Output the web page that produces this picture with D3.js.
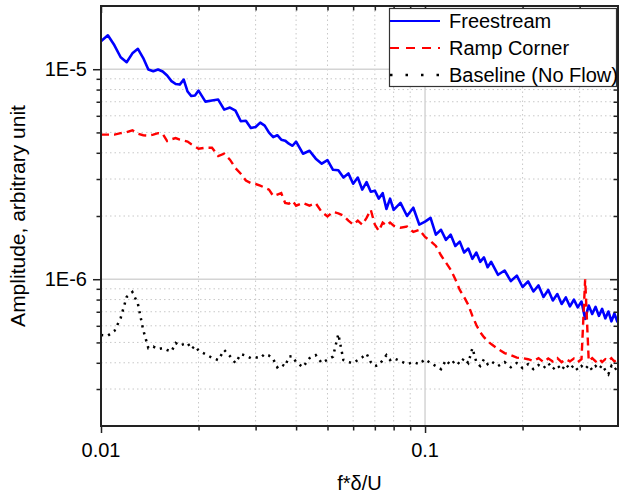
<!DOCTYPE html>
<html><head><meta charset="utf-8">
<script src="https://cdn.jsdelivr.net/npm/d3@7"></script>
<style>
body{margin:0;background:#fff;}
text{font-family:"Liberation Sans",Arial,sans-serif;fill:#000;}
</style></head>
<body>
<svg id="chart" width="619" height="496"></svg>
<script>
// ---- data (amplitudes in units of 1e-7) ----
const UNIT = 1e-7;
const freq = [
 0.0100,0.0105,0.0110,0.0115,0.0120,0.0125,0.0130,0.0135,0.0140,0.0145,
 0.0150,0.0155,0.0160,0.0165,0.0170,0.0175,0.0180,0.0185,0.0190,0.0195,
 0.020,0.021,0.022,0.023,0.024,0.025,0.026,0.027,0.028,0.029,
 0.030,0.031,0.032,0.033,0.034,0.035,0.036,0.037,0.038,0.039,
 0.040,0.042,0.044,0.046,0.048,0.050,0.052,0.054,0.056,0.058,
 0.060,0.062,0.064,0.066,0.068,0.070,0.072,0.074,0.076,0.078,
 0.080,0.084,0.088,0.092,0.096,0.100,0.104,0.108,0.112,0.116,
 0.120,0.124,0.128,0.132,0.136,0.140,0.144,0.148,0.152,0.156,
 0.160,0.168,0.176,0.184,0.192,0.200,0.208,0.216,0.224,0.232,
 0.240,0.248,0.256,0.264,0.272,0.280,0.288,0.296,0.304,0.312,
 0.320,0.328,0.336,0.344,0.352,0.360,0.368,0.376,0.384,0.392,0.400
];
const ampFree = [
 136,145,130,114,108,119,125,113,99.7,97.8,
 99.7,97.5,93.3,87.8,85.0,84.5,89.3,78.3,74.5,74.9,
 79.1,70.1,70.9,71.7,64.2,65.7,63.5,56.5,56.8,52.5,
 53.1,55.7,53.9,49.9,47.5,48.5,46.2,45.7,44.2,43.2,
 45.2,39.6,40.9,37.5,35.5,36.9,33.2,33.0,30.5,31.9,
 28.5,30.5,26.7,29.0,26.1,26.4,24.2,25.7,21.6,24.2,
 21.4,23.1,20.0,21.9,18.2,18.8,19.6,16.3,17.2,15.4,
 16.3,14.4,15.1,13.4,14.0,12.5,13.4,12.1,12.7,11.4,
 12.1,10.5,11.0,9.8,10.4,9.18,9.76,8.74,9.34,8.23,
 8.89,7.92,8.50,7.62,8.19,7.42,8.00,7.34,7.83,6.47,
 7.50,6.83,7.38,6.69,7.22,6.51,7.02,6.30,6.87,6.29,6.69
];
const ampRamp = [
 48.8,48.8,48.8,49.6,50.2,51.2,49.3,48.5,48.3,48.8,
 49.6,49.3,45.5,46.4,47.0,46.2,45.7,45.2,43.9,42.9,
 41.8,42.3,42.3,38.6,39.6,37.1,33.8,31.8,29.5,28.7,
 28.4,27.9,27.3,26.7,24.9,25.3,25.7,23.1,22.9,23.6,
 22.4,23.1,22.4,23.0,20.9,19.9,20.9,20.6,20.1,19.0,
 18.2,19.0,18.2,19.6,21.4,18.2,17.0,18.6,18.0,18.6,
 18.0,17.6,17.8,16.8,17.2,15.9,15.2,14.4,13.0,12.0,
 11.1,10.0,8.89,8.23,7.54,6.69,6.05,5.60,5.30,5.07,
 4.91,4.65,4.45,4.35,4.23,4.21,4.16,4.08,4.21,4.03,
 4.19,4.06,4.21,4.03,4.16,4.06,4.19,4.03,4.16,10.0,
 4.08,4.21,4.06,4.19,4.03,4.16,4.08,4.21,4.06,4.16,4.08
];
const ampBase = [
 5.42,5.39,5.67,6.54,8.23,8.69,7.62,5.73,4.70,4.78,
 4.65,4.70,4.60,4.53,4.97,4.83,4.91,4.97,4.65,4.81,
 4.57,4.40,4.23,4.12,4.60,4.30,3.99,4.40,4.33,4.21,
 4.25,4.21,4.40,4.33,4.16,3.81,3.94,3.84,4.28,4.30,
 4.03,3.81,4.21,4.35,3.99,4.14,4.28,5.48,4.12,4.03,
 3.99,4.12,4.25,4.42,4.03,3.86,3.90,4.12,4.35,4.12,
 4.21,4.07,3.94,4.03,3.94,4.16,3.99,3.86,3.73,4.12,
 3.90,4.12,3.94,4.21,3.99,4.70,4.03,3.86,4.16,3.94,
 4.07,3.86,4.03,3.81,3.99,3.77,3.94,3.73,3.90,3.77,
 3.99,3.73,3.90,3.69,3.94,3.73,3.90,3.69,3.86,3.73,
 3.90,3.69,3.86,3.73,3.90,3.69,3.53,3.86,3.69,3.81,3.73
];
const seriesNames = ["Freestream","Ramp Corner","Baseline (No Flow)"];
const xMajor = [0.01, 0.1];
const xMajorLabels = ["0.01","0.1"];
const xMinor = [0.02,0.03,0.04,0.05,0.06,0.07,0.08,0.09,0.2,0.3];
const yMajor = [1e-6, 1e-5];
const yMajorLabels = ["1E-6","1E-5"];
const yMinor = [3e-7,4e-7,5e-7,6e-7,7e-7,8e-7,9e-7,2e-6,3e-6,4e-6,5e-6,6e-6,7e-6,8e-6,9e-6];
const xTitle = "f*\u03b4/U";
const yTitle = "Amplitude, arbitrary unit";

// ---- layout ----
const L = 101, R = 618, T = 6, B = 426;
const svg = d3.select("#chart");
const x = d3.scaleLog().domain([0.01, 0.394]).range([L, R]);
const y = d3.scaleLog().domain([2e-7, 2e-5]).range([B, T]);

// grid
const grid = svg.append("g");
grid.selectAll(".gxm").data(xMinor).join("line")
  .attr("x1", d=>x(d)).attr("x2", d=>x(d)).attr("y1", T).attr("y2", B)
  .attr("stroke", "#c8c8c8").attr("stroke-width", 1).attr("stroke-dasharray", "1.5,3");
grid.selectAll(".gym").data(yMinor).join("line")
  .attr("y1", d=>y(d)).attr("y2", d=>y(d)).attr("x1", L).attr("x2", R)
  .attr("stroke", "#c8c8c8").attr("stroke-width", 1).attr("stroke-dasharray", "1.5,3");
grid.selectAll(".gxM").data(xMajor.filter(v=>v>0.01)).join("line")
  .attr("x1", d=>x(d)).attr("x2", d=>x(d)).attr("y1", T).attr("y2", B)
  .attr("stroke", "#d4d4d4").attr("stroke-width", 1.5);
grid.selectAll(".gyM").data(yMajor).join("line")
  .attr("y1", d=>y(d)).attr("y2", d=>y(d)).attr("x1", L).attr("x2", R)
  .attr("stroke", "#d4d4d4").attr("stroke-width", 1.5);

// clip
svg.append("clipPath").attr("id","clip").append("rect")
  .attr("x", L).attr("y", T).attr("width", R-L).attr("height", B-T);

const line = d3.line().x(d=>x(d.f)).y(d=>y(d.a));
const mk = arr => freq.map((f,i)=>({f, a: arr[i]*UNIT}));
const plot = svg.append("g").attr("clip-path","url(#clip)");
plot.append("path").datum(mk(ampBase)).attr("d", line)
  .attr("fill","none").attr("stroke","#000").attr("stroke-width",2.5)
  .attr("stroke-dasharray","2.2,5");
plot.append("path").datum(mk(ampFree)).attr("d", line)
  .attr("fill","none").attr("stroke","#0000ff").attr("stroke-width",2.6)
  .attr("stroke-linejoin","round");
plot.append("path").datum(mk(ampRamp)).attr("d", line)
  .attr("fill","none").attr("stroke","#ff0000").attr("stroke-width",2.4)
  .attr("stroke-dasharray","8,5");

// axes
const axCol = "#222";
function styleAxis(g){ g.select(".domain").remove(); g.selectAll("line").attr("stroke", axCol).attr("stroke-width",1.5); g.selectAll("text").remove(); }
svg.append("g").attr("transform",`translate(0,${B})`).call(d3.axisBottom(x).tickValues(xMajor).tickSize(7)).call(styleAxis);
svg.append("g").attr("transform",`translate(0,${B})`).call(d3.axisBottom(x).tickValues(xMinor).tickSize(4.5)).call(styleAxis);
svg.append("g").attr("transform",`translate(0,${T})`).call(d3.axisTop(x).tickValues(xMajor).tickSize(-7)).call(styleAxis);
svg.append("g").attr("transform",`translate(0,${T})`).call(d3.axisTop(x).tickValues(xMinor).tickSize(-4.5)).call(styleAxis);
svg.append("g").attr("transform",`translate(${L},0)`).call(d3.axisLeft(y).tickValues(yMajor).tickSize(8)).call(styleAxis);
svg.append("g").attr("transform",`translate(${L},0)`).call(d3.axisLeft(y).tickValues(yMinor).tickSize(4.5)).call(styleAxis);
svg.append("g").attr("transform",`translate(${R},0)`).call(d3.axisRight(y).tickValues(yMajor).tickSize(-8)).call(styleAxis);
svg.append("g").attr("transform",`translate(${R},0)`).call(d3.axisRight(y).tickValues(yMinor).tickSize(-4.5)).call(styleAxis);

// frame lines
svg.append("line").attr("x1",L).attr("x2",L).attr("y1",T-1).attr("y2",B+1).attr("stroke",axCol).attr("stroke-width",2);
svg.append("line").attr("x1",L-1).attr("x2",R+1).attr("y1",B).attr("y2",B).attr("stroke",axCol).attr("stroke-width",2);
svg.append("line").attr("x1",L-1).attr("x2",R+1).attr("y1",T).attr("y2",T).attr("stroke",axCol).attr("stroke-width",2);
svg.append("line").attr("x1",R).attr("x2",R).attr("y1",T-1).attr("y2",B+1).attr("stroke",axCol).attr("stroke-width",2);

// tick labels
svg.selectAll(".xl").data(xMajor).join("text")
  .attr("x", d=>x(d)).attr("y", 457).attr("text-anchor","middle")
  .attr("font-size", 20).text((d,i)=>xMajorLabels[i]);
svg.selectAll(".yl").data(yMajor).join("text")
  .attr("x", 87).attr("y", d=>y(d)+7).attr("text-anchor","end")
  .attr("font-size", 20).text((d,i)=>yMajorLabels[i]);

// titles
svg.append("text").attr("x", (L+R)/2).attr("y", 490).attr("text-anchor","middle")
  .attr("font-size", 20).text(xTitle);
svg.append("text").attr("transform", `translate(25,${(T+B)/2}) rotate(-90)`)
  .attr("text-anchor","middle").attr("font-size", 21).text(yTitle);

// legend
const lg = svg.append("g");
lg.append("rect").attr("x",389.5).attr("y",8.5).attr("width",227).attr("height",78)
  .attr("fill","#fff").attr("stroke","#333").attr("stroke-width",1.2);
const legStyles = [
  {c:"#0000ff", dash:null, w:2},
  {c:"#ff0000", dash:"9,7", w:2},
  {c:"#000", dash:"2.5,13", w:2.5}
];
seriesNames.forEach((n,i)=>{
  const yy = 21 + i*27;
  const s = legStyles[i];
  const l = lg.append("line").attr("x1",390).attr("x2",440).attr("y1",yy).attr("y2",yy)
    .attr("stroke",s.c).attr("stroke-width",s.w);
  if (s.dash) l.attr("stroke-dasharray", s.dash);
  lg.append("text").attr("x",449).attr("y",yy+7).attr("font-size",20).text(n);
});
</script>
</body></html>
